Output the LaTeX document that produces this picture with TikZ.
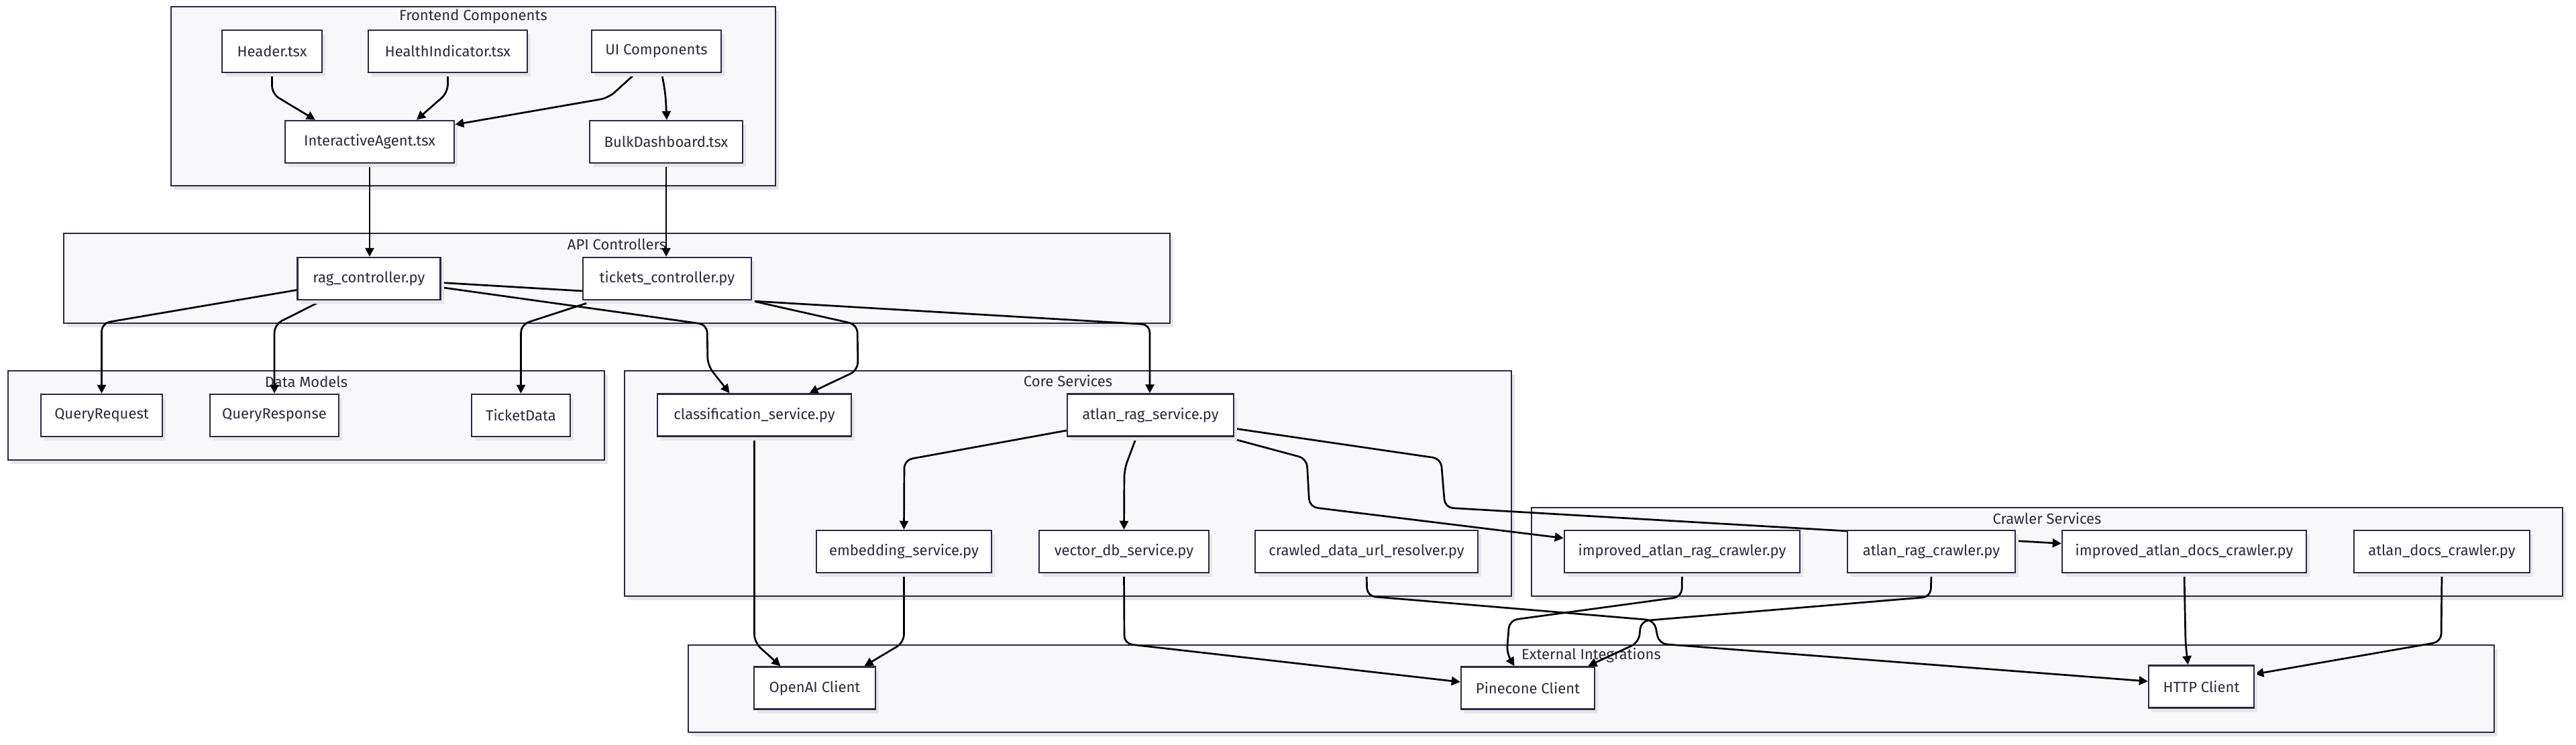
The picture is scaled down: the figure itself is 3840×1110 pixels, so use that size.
\documentclass[tikz,border=0pt]{standalone}
\usepackage{fontspec}
\setmainfont{Fira Sans}
\usetikzlibrary{arrows.meta,calc,shadows}
\definecolor{ink}{HTML}{2B2A44}
\definecolor{txt}{HTML}{2A2A3E}
\definecolor{clfill}{HTML}{F8F8FA}
\definecolor{shd}{HTML}{E6E6EB}
\pgfdeclarelayer{clusters}
\pgfdeclarelayer{edges}
\pgfsetlayers{clusters,edges,main}
\tikzset{
  box/.style={draw=ink, fill=white, line width=1.25pt, minimum height=31.5pt,
    minimum width=#1, inner sep=0pt, text=txt, font=\fontsize{11}{13}\selectfont,
    drop shadow={shadow xshift=2.5pt, shadow yshift=-3pt, fill=shd, opacity=1}},
  cluster/.style={draw=ink, fill=clfill, line width=1.2pt,
    drop shadow={shadow xshift=2.5pt, shadow yshift=-3pt, fill=shd, opacity=1}},
  ctitle/.style={text=txt, inner sep=0pt, font=\fontsize{11}{13}\selectfont},
  edge/.style={draw=black, line width=1.35pt, rounded corners=6pt,
    -{Triangle[length=6.5pt,width=6.5pt]}},
}
\begin{document}
\begin{tikzpicture}[x=0.5pt,y=-0.5pt]
\useasboundingbox (0,0) rectangle (3840,1110);
% nodes
\node[box=74.5pt] (header) at (405.5,76.5) {Header.tsx};
\node[box=118.5pt] (health) at (667.5,76.5) {HealthIndicator.tsx};
\node[box=96.5pt] (ui) at (978.5,76.5) {UI Components};
\node[box=126pt] (inter) at (551,211.5) {InteractiveAgent.tsx};
\node[box=114pt] (bulk) at (993,211.5) {BulkDashboard.tsx};
\node[box=106.5pt] (rag) at (550,415.5) {rag\_controller.py};
\node[box=125.5pt] (tick) at (994.5,415.5) {tickets\_controller.py};
\node[box=90.5pt] (qreq) at (151.5,619.5) {QueryRequest};
\node[box=96pt] (qresp) at (409,619.5) {QueryResponse};
\node[box=73.5pt] (ticket) at (776.5,619.5) {TicketData};
\node[box=144.5pt] (cls) at (1124.5,619) {classification\_service.py};
\node[box=124pt] (atlan) at (1715,619) {atlan\_rag\_service.py};
\node[box=130.5pt] (embed) at (1347.5,822.5) {embedding\_service.py};
\node[box=126.5pt] (vdb) at (1675.5,822.5) {vector\_db\_service.py};
\node[box=166pt] (crawled) at (2037,822.5) {crawled\_data\_url\_resolver.py};
\node[box=175.5pt] (iarc) at (2507.5,822.5) {improved\_atlan\_rag\_crawler.py};
\node[box=125pt] (arc) at (2879,822.5) {atlan\_rag\_crawler.py};
\node[box=182pt] (iadc) at (3256,822.5) {improved\_atlan\_docs\_crawler.py};
\node[box=131pt] (adc) at (3640,822.5) {atlan\_docs\_crawler.py};
\node[box=90.5pt] (openai) at (1214.5,1026) {OpenAI Client};
\node[box=99.5pt] (pine) at (2277.5,1026) {Pinecone Client};
\node[box=78.5pt] (http) at (3281.5,1024) {HTTP Client};
% clusters
\begin{pgfonlayer}{clusters}
\path[cluster] (255,10) rectangle (1156,277);
\path[cluster] (95,348) rectangle (1744,482);
\path[cluster] (12,553) rectangle (901,686);
\path[cluster] (931,553) rectangle (2253,889);
\path[cluster] (2283,757) rectangle (3820,889);
\path[cluster] (1026,962) rectangle (3718,1092);
\node[ctitle] (tfront) at (705.5,25) {Frontend Components};
\node[ctitle] (tapi) at (919.5,364) {API Controllers};
\node[ctitle] (tdata) at (456.5,569) {Data Models};
\node[ctitle] (tcore) at (1592,568) {Core Services};
\node[ctitle] (tcrawl) at (3051.5,773) {Crawler Services};
\node[ctitle] (text) at (2372,977) {External Integrations};
\end{pgfonlayer}
% edges
\begin{pgfonlayer}{edges}
\draw[edge] (header.south) -- (405.5,140) -- ($(inter.north)+(-81,0)$);
\draw[edge] (health.south) -- (667.5,138) -- ($(inter.north)+(70,0)$);
\draw[edge] ($(ui.south)+(-31,0)$) -- (907,146) -- ($(inter.north east)+(0,7)$);
\draw[edge] ($(ui.south)+(8,0)$) -- (992,140) -- ($(bulk.north)+(1,0)$);
\draw[edge] (inter.south) -- (inter.south |- rag.north);
\draw[edge] (bulk.south) -- (bulk.south |- tick.north);
\draw[edge] ($(rag.west)+(0,17)$) -- (151.5,482) -- (qreq.north);
\draw[edge] ($(rag.south)+(-70,0)$) -- (409,484) -- (qresp.north);
\draw[edge] ($(tick.south)+(-108,0)$) -- (776.5,484) -- (ticket.north);
\draw[edge] ($(rag.east)+(0,13)$) -- (1054,484) -- (1055,545) -- ($(cls.north)+(-37,0)$);
\draw[edge] ($(tick.south east)+(-2,0)$) -- (1278,484) -- (1279,552) -- ($(cls.north)+(82,0)$);
\draw[edge] ($(rag.east)+(0,6)$) -- (1714,484) -- ($(atlan.north)+(-1,0)$);
\draw[edge] ($(atlan.west)+(0,23)$) -- (1348,686) -- (embed.north);
\draw[edge] ($(atlan.south)+(-21,0)$) -- (1676,700) -- (vdb.north);
\draw[edge] ($(atlan.south)+(113,0)$) -- (1948,684) -- (1952,756) -- ($(iarc.west)+(0,-20)$);
\draw[edge] ($(atlan.east)+(0,20)$) -- (2148,684) -- (2154,757) -- ($(iadc.west)+(0,-12)$);
\draw[edge] (cls.south) -- (1124.5,958) -- ($(openai.north)+(-51,0)$);
\draw[edge] (embed.south) -- (1347.5,958) -- ($(openai.north)+(74,0)$);
\draw[edge] (vdb.south) -- (1676,960) -- ($(pine.west)+(0,-9)$);
\draw[edge] (crawled.south) -- (2038,889) -- (2466,925) -- (2473,960) -- ($(http.west)+(0,-8)$);
\draw[edge] (iarc.south) -- (2507,890) -- (2250,925) -- (2246,975) -- ($(pine.north)+(-20,0)$);
\draw[edge] (arc.south) -- (2878,890) -- (2446,926) -- (2443,958) -- ($(pine.north east)+(-11,0)$);
\draw[edge] (iadc.south) -- (3258,960) -- ($(http.north)+(-20,0)$);
\draw[edge] (adc.south) -- (3639,957) -- ($(http.north east)+(0,14)$);
\end{pgfonlayer}
\end{tikzpicture}
\end{document}
